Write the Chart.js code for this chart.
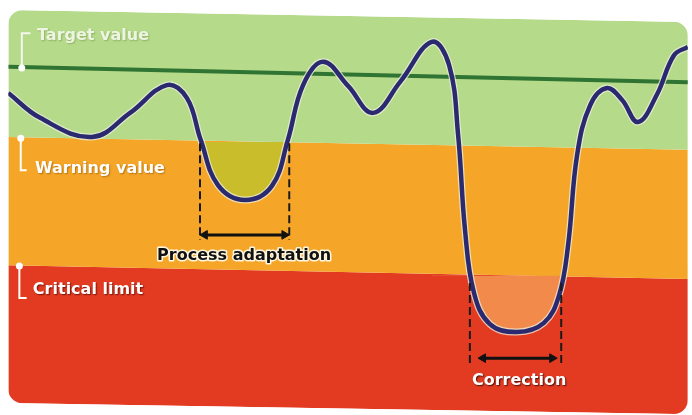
<!DOCTYPE html>
<html>
<head>
<meta charset="utf-8">
<script src="https://cdn.jsdelivr.net/npm/chart.js@4/dist/chart.umd.min.js"></script>
<style>
  html, body { margin: 0; padding: 0; background: #ffffff; }
  #wrap { width: 692px; height: 415px; }
</style>
</head>
<body>
<div id="wrap"><canvas id="c" width="692" height="415"></canvas></div>
<script>
// process curve: time (0..100) and process value (0..100)
const timeT = [1.2, 5.8, 13.3, 18.8, 24.1, 27.0, 29.0, 31.5, 35.4, 39.3, 41.6, 43.8, 46.7, 50.3, 53.9, 57.8, 62.4,
  64.9, 66.2, 67.2, 68.5, 70.8, 74.7, 78.6, 80.8, 82.1, 83.4, 85.3, 87.7, 89.9, 92.2, 94.9, 97.4, 99.4];
const levelV = [77.6, 71.6, 67.0, 72.8, 79.5, 76.4, 66.3, 55.4, 51.8, 55.2, 66.3, 79.5, 85.1, 79.3, 72.8, 80.2, 89.9,
  84.3, 67.5, 44.6, 29.4, 21.9, 20.0, 22.2, 28.9, 41.0, 62.7, 74.7, 78.8, 75.9, 70.6, 77.1, 86.7, 88.7];

// zone edges (left end, right end) - the scan is a little tilted
const edgeT = [1.2, 99.4];
const topEdge = [97.6, 94.7];
const warningEdge = [67.0, 63.9];
const criticalEdge = [36.1, 32.8];
const bottomEdge = [2.9, 0.2];
const targetLine = [83.9, 80.2];

// brackets next to the zone names
const targetBracketT = [4.4, 3.15, 3.15];
const targetBracketV = [92.0, 92.0, 83.6];
const warningBracketT = [3.0, 3.0, 3.85];
const warningBracketV = [66.7, 59.0, 59.0];
const criticalBracketT = [2.8, 2.8, 3.85];
const criticalBracketV = [35.9, 28.2, 28.2];

// dashed markers and arrows
const adaptDashT = [28.9, 41.8];
const adaptDashV = [65.5, 42.2];
const adaptArrowT = [29.6, 41.1];
const adaptArrowV = 43.4;
const corrDashT = [67.9, 81.1];
const corrDashV = [31.8, 12.5];
const corrArrowT = [69.8, 79.8];
const corrArrowV = 13.7;

// text labels (left x, baseline)
const labelText = ['Target value', 'Warning value', 'Critical limit', 'Process adaptation', 'Correction'];
const labelT = [5.35, 5.05, 4.75, 22.7, 68.2];
const labelV = [90.4, 58.3, 29.2, 37.3, 7.2];

const pts = (xs, ys) => xs.map((x, i) => ({ x: x, y: Array.isArray(ys) ? ys[i] : ys }));
const curve = pts(timeT, levelV);
const dipLeft = curve.filter(p => p.x >= 24 && p.x <= 47);
const dipRight = curve.filter(p => p.x >= 62 && p.x <= 88);

const GREEN = '#b5da8a', ORANGE = '#f5a628', RED = '#e33b22';
const SMOOTH = 0.4;

function band(ys, color, fill) {
  return { data: pts(edgeT, ys), borderWidth: 0, pointRadius: 0, fill: fill, backgroundColor: color, order: 10 };
}
function plain(data, color, width, extra) {
  return Object.assign({ data: data, borderColor: color, borderWidth: width, pointRadius: 0, fill: false, tension: 0 }, extra || {});
}

const datasets = [
  band(topEdge, GREEN, '+1'),
  band(warningEdge, ORANGE, '+1'),
  band(criticalEdge, RED, '+1'),
  band(bottomEdge, RED, false),
  plain(pts(edgeT, targetLine), '#2f7433', 4, { order: 6 }),
  plain(dipLeft, 'rgba(0,0,0,0)', 0, { order: 5, tension: SMOOTH,
    fill: { target: { value: 65.8 }, above: 'rgba(0,0,0,0)', below: '#c9bd2c' } }),
  plain(dipRight, 'rgba(0,0,0,0)', 0, { order: 5, tension: SMOOTH,
    fill: { target: { value: 33.6 }, above: 'rgba(0,0,0,0)', below: '#f28a4c' } }),
  plain(curve, 'rgba(236,240,220,0.75)', 7, { order: 4, tension: SMOOTH }),
  plain(curve, '#2b2a70', 4.5, { order: 3, tension: SMOOTH }),
  plain(pts([adaptDashT[0], adaptDashT[0]], adaptDashV), '#1a1a1a', 2, { order: 2, borderDash: [8, 4] }),
  plain(pts([adaptDashT[1], adaptDashT[1]], adaptDashV), '#1a1a1a', 2, { order: 2, borderDash: [8, 4] }),
  plain(pts([corrDashT[0], corrDashT[0]], corrDashV), '#1a1a1a', 2, { order: 2, borderDash: [8, 4] }),
  plain(pts([corrDashT[1], corrDashT[1]], corrDashV), '#1a1a1a', 2, { order: 2, borderDash: [8, 4] }),
  plain(pts(adaptArrowT, adaptArrowV), '#111111', 3, { order: 1, pointStyle: 'triangle', pointRadius: 5,
    pointRotation: [-90, 90], pointBackgroundColor: '#111111', pointBorderColor: '#111111', pointBorderWidth: 1 }),
  plain(pts(corrArrowT, corrArrowV), '#111111', 3, { order: 1, pointStyle: 'triangle', pointRadius: 5,
    pointRotation: [-90, 90], pointBackgroundColor: '#111111', pointBorderColor: '#111111', pointBorderWidth: 1 }),
  plain(pts(targetBracketT, targetBracketV), '#f4f8ee', 2, { order: 0, pointRadius: [0, 0, 3.5], pointBackgroundColor: '#ffffff', pointBorderWidth: 0 }),
  plain(pts(warningBracketT, warningBracketV), '#ffffff', 2, { order: 0, pointRadius: [3.5, 0, 0], pointBackgroundColor: '#ffffff', pointBorderWidth: 0 }),
  plain(pts(criticalBracketT, criticalBracketV), '#ffffff', 2, { order: 0, pointRadius: [3.5, 0, 0], pointBackgroundColor: '#ffffff', pointBorderWidth: 0 })
];

// rounded panel clip + text labels
const labelStyle = [
  { fill: '#eef4e2', shadow: 'rgba(80,110,40,0.35)', stroke: null, size: 16 },
  { fill: '#ffffff', shadow: 'rgba(120,70,0,0.5)', stroke: null, size: 16 },
  { fill: '#ffffff', shadow: 'rgba(90,10,0,0.8)', stroke: null, size: 16 },
  { fill: '#111111', shadow: null, stroke: '#fff6e0', size: 16 },
  { fill: '#ffffff', shadow: 'rgba(60,10,0,0.9)', stroke: null, size: 16 }
];

const panel = {
  id: 'panel',
  beforeDatasetsDraw(chart) {
    const ctx = chart.ctx, x = chart.scales.x, y = chart.scales.y;
    const c = [
      [x.getPixelForValue(edgeT[0]), y.getPixelForValue(topEdge[0])],
      [x.getPixelForValue(edgeT[1]), y.getPixelForValue(topEdge[1])],
      [x.getPixelForValue(edgeT[1]), y.getPixelForValue(bottomEdge[1])],
      [x.getPixelForValue(edgeT[0]), y.getPixelForValue(bottomEdge[0])]
    ];
    const r = 14;
    ctx.save();
    ctx.beginPath();
    ctx.moveTo((c[3][0] + c[0][0]) / 2, (c[3][1] + c[0][1]) / 2);
    for (let i = 0; i < 4; i++) {
      const a = c[i], b = c[(i + 1) % 4];
      ctx.arcTo(a[0], a[1], b[0], b[1], r);
    }
    ctx.closePath();
    ctx.clip();
  },
  afterDatasetsDraw(chart) {
    const ctx = chart.ctx, x = chart.scales.x, y = chart.scales.y;
    ctx.restore();
    labelText.forEach((t, i) => {
      const s = labelStyle[i];
      const px = x.getPixelForValue(labelT[i]), py = y.getPixelForValue(labelV[i]);
      ctx.save();
      ctx.font = 'bold ' + s.size + 'px "DejaVu Sans", Verdana, sans-serif';
      ctx.textAlign = 'left';
      ctx.textBaseline = 'alphabetic';
      if (s.stroke) {
        ctx.lineJoin = 'round';
        ctx.lineWidth = 3;
        ctx.strokeStyle = s.stroke;
        ctx.strokeText(t, px, py);
      }
      if (s.shadow) {
        ctx.shadowColor = s.shadow;
        ctx.shadowOffsetX = 1;
        ctx.shadowOffsetY = 1;
        ctx.shadowBlur = 1.5;
      }
      ctx.fillStyle = s.fill;
      ctx.fillText(t, px, py);
      ctx.restore();
    });
  }
};

new Chart(document.getElementById('c'), {
  type: 'line',
  data: { datasets: datasets },
  options: {
    responsive: false,
    animation: false,
    layout: { padding: 0, autoPadding: false },
    plugins: { legend: { display: false }, tooltip: { enabled: false } },
    scales: {
      x: { type: 'linear', min: 0, max: 100, display: false },
      y: { type: 'linear', min: 0, max: 100, display: false }
    }
  },
  plugins: [panel]
});
</script>
</body>
</html>
